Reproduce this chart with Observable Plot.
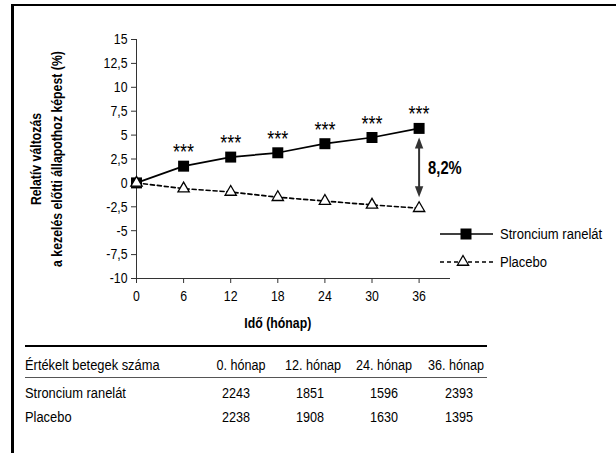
<!DOCTYPE html>
<html>
<head>
<meta charset="utf-8">
<script src="https://cdn.jsdelivr.net/npm/d3@7"></script>
<script src="https://cdn.jsdelivr.net/npm/@observablehq/plot@0.6"></script>
<style>
  html, body { margin: 0; padding: 0; background: #fff; }
  body { width: 616px; height: 453px; position: relative; overflow: hidden;
         font-family: "Liberation Sans", Arial, sans-serif; color: #000; }
  #frame { position: absolute; left: 11px; top: 4px; width: 605px; height: 449px;
           border-top: 2px solid #000; border-left: 3px solid #000; box-sizing: border-box; }
  #chart { position: absolute; left: 0; top: 0; }
  #legend { position: absolute; left: 430px; top: 220px; }
  .cell { position: absolute; font-size: 14px; line-height: 16px; white-space: nowrap; }
  .l { transform: translateY(-50%) scaleX(0.92); transform-origin: 0 50%; }
  .c { transform: translate(-50%, -50%) scaleX(0.9); }
  .hr { position: absolute; left: 25px; width: 462px; }
</style>
</head>
<body>
<div id="frame"></div>
<div id="chart"></div>
<div id="legend"></div>
<div id="table"></div>
<script>
// ---- data ----
const months = [0, 6, 12, 18, 24, 30, 36];
const strontiumValues = [0, 1.75, 2.7, 3.15, 4.1, 4.75, 5.7];
const placeboValues = [0, -0.6, -0.95, -1.5, -1.9, -2.3, -2.65];
const yTicks = [-10, -7.5, -5, -2.5, 0, 2.5, 5, 7.5, 10, 12.5, 15];
const xTicks = [0, 6, 12, 18, 24, 30, 36];
const significance = ["", "***", "***", "***", "***", "***", "***"];
const diffLabel = "8,2%";
const seriesNames = ["Stroncium ranelát", "Placebo"];
const xLabel = "Idő (hónap)";
const yLabel = "Relatív változás\na kezelés előtti állapothoz képest (%)";
const tableHeader = ["Értékelt betegek száma", "0. hónap", "12. hónap", "24. hónap", "36. hónap"];
const tableStrontium = [2243, 1851, 1596, 2393];
const tablePlacebo = [2238, 1908, 1630, 1395];

const K = 0.82; // condensed text
const font = '"Liberation Sans", Arial, sans-serif';
const stron = months.map((m, i) => ({month: m, value: strontiumValues[i], sig: significance[i]}));
const plac = months.map((m, i) => ({month: m, value: placeboValues[i]}));
const last = months.length - 1;
const diff = [{month: months[last], s: strontiumValues[last], p: placeboValues[last], label: diffLabel}];
const fmt = d => String(d).replace(".", ",");

// arrow head symbols (apex at origin)
const headUp = {draw(ctx) { ctx.moveTo(0, 0); ctx.lineTo(4.2, 11); ctx.lineTo(-4.2, 11); ctx.closePath(); }};
const headDown = {draw(ctx) { ctx.moveTo(0, 0); ctx.lineTo(4.2, -11); ctx.lineTo(-4.2, -11); ctx.closePath(); }};

const chart = Plot.plot({
  width: 616, height: 340,
  marginLeft: 136, marginRight: 166, marginTop: 39, marginBottom: 62,
  style: {fontFamily: font, fontSize: "15px", color: "#000", background: "transparent", overflow: "visible"},
  x: {domain: [0, 40]},
  y: {domain: [-10, 15]},
  marks: [
    Plot.axisY({ticks: yTicks, tickSize: 5, tickPadding: 4, tickFormat: fmt, label: null, stroke: "#333", fontSize: 15}),
    Plot.axisX({ticks: xTicks, tickSize: 5, tickPadding: 7, label: null, stroke: "#333", fontSize: 15}),
    Plot.ruleX([0], {stroke: "#333"}),
    Plot.ruleY([-10], {stroke: "#333"}),
    Plot.line(stron, {x: "month", y: "value", stroke: "#000", strokeWidth: 1.7}),
    Plot.line(plac, {x: "month", y: "value", stroke: "#000", strokeWidth: 1.7, strokeDasharray: "4,3"}),
    Plot.dot(stron, {x: "month", y: "value", symbol: "square", r: 6.2, fill: "#000"}),
    Plot.dot(plac, {x: "month", y: "value", symbol: "triangle", r: 4.2, fill: "#fff", stroke: "#000", strokeWidth: 1.3}),
    Plot.text(stron.filter(d => d.sig), {x: "month", y: "value", text: "sig", dy: -14, fontSize: 22}),
    Plot.ruleX(diff, {x: "month", y1: "s", y2: "p", insetTop: 12, insetBottom: 14, stroke: "#333", strokeWidth: 2}),
    Plot.dot(diff, {x: "month", y: "s", symbol: headUp, fill: "#333", dy: 9}),
    Plot.dot(diff, {x: "month", y: "p", symbol: headDown, fill: "#333", dy: -11}),
    Plot.text(diff, {x: "month", y: d => (d.s + d.p) / 2, text: "label", dx: 9, textAnchor: "start", fontWeight: "bold", fontSize: 18}),
    Plot.text([xLabel], {x: 18, y: -10, dy: 45, text: d => d, fontWeight: "bold", fontSize: 15}),
    Plot.text([yLabel], {frameAnchor: "left", textAnchor: "middle", text: d => d, rotate: -90, dx: -92, fontWeight: "bold", fontSize: 15, lineHeight: 1.4})
  ]
});
// condense all chart texts horizontally around their own anchor
chart.querySelectorAll("text").forEach(t => {
  const tr = t.getAttribute("transform") || "";
  t.setAttribute("transform", `${tr} scale(${K},1)`);
});
document.getElementById("chart").append(chart);

// ---- legend ----
const lg = d3.select("#legend").append("svg").attr("width", 186).attr("height", 60);
const rows = [{y: 14, dash: null, sym: d3.symbolSquare, size: 121, fill: "#000", cx: 36},
              {y: 42, dash: "4,3", sym: d3.symbolTriangle, size: 55, fill: "#fff", cx: 33}];
rows.forEach((r, i) => {
  lg.append("line").attr("x1", 10).attr("x2", 63).attr("y1", r.y).attr("y2", r.y)
    .attr("stroke", "#000").attr("stroke-width", 1.7).attr("stroke-dasharray", r.dash);
  lg.append("path").attr("d", d3.symbol(r.sym, r.size)()).attr("transform", `translate(${r.cx},${r.y})`)
    .attr("fill", r.fill).attr("stroke", "#000").attr("stroke-width", i ? 1.3 : 0);
  lg.append("text").attr("transform", `translate(70,${r.y}) scale(0.87,1)`).attr("dy", "0.35em")
    .attr("font-size", 15).attr("font-family", font).text(seriesNames[i]);
});

// ---- table ----
const tbl = document.getElementById("table");
const headX = [25, 241, 313, 384, 456];
const numX = [25, 236, 310, 384, 459];
const rowY = [365, 393, 417];
function cell(text, x, y, center) {
  const d = document.createElement("div");
  d.className = "cell " + (center ? "c" : "l");
  d.style.left = x + "px"; d.style.top = y + "px";
  d.textContent = text; tbl.append(d);
}
tableHeader.forEach((t, i) => cell(t, headX[i], rowY[0], i > 0));
[[seriesNames[0], ...tableStrontium], [seriesNames[1], ...tablePlacebo]].forEach((row, r) =>
  row.forEach((t, i) => cell(String(t), numX[i], rowY[r + 1], i > 0)));
function hr(y, h, c) { const d = document.createElement("div"); d.className = "hr";
  d.style.top = y + "px"; d.style.height = h + "px"; d.style.background = c; tbl.append(d); }
hr(345, 2, "#000");
hr(377, 1, "#555");
</script>
</body>
</html>
